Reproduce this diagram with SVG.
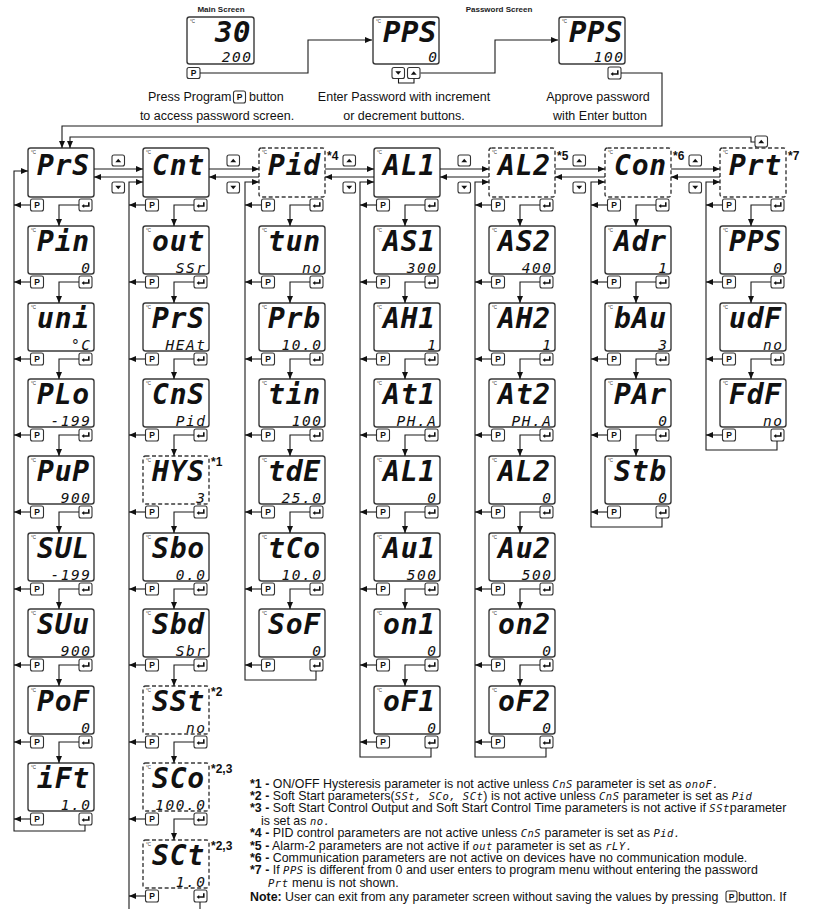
<svg xmlns="http://www.w3.org/2000/svg" width="813" height="909" viewBox="0 0 813 909">
<style>
.box{fill:#fff;stroke:#3a3a3a;stroke-width:1.4}
.dash{stroke-dasharray:4 2.5}
.btn{fill:#fff;stroke:#333;stroke-width:1.1}
.ln{fill:none;stroke:#1a1a1a;stroke-width:1.1}
.arr{marker-end:url(#ah)}
.seg{font-family:"DejaVu Sans Mono",monospace;font-style:italic;font-weight:bold;font-size:28px;letter-spacing:0.8px;fill:#111}
.segt{font-family:"DejaVu Sans Mono",monospace;font-style:italic;font-weight:bold;font-size:29px;letter-spacing:0.5px;fill:#111;text-anchor:end}
.val{font-family:"DejaVu Sans Mono",monospace;font-style:italic;font-size:14.5px;letter-spacing:1.5px;text-anchor:end;fill:#111}
.deg{font-family:"Liberation Sans",Arial,sans-serif;font-size:4.5px;fill:#333}
.bp{font-family:"Liberation Sans",Arial,sans-serif;font-weight:bold;font-size:8.5px;text-anchor:middle;fill:#111}
.cap{font-family:"Liberation Sans",Arial,sans-serif;font-size:12.5px;fill:#111}
.ttl{font-family:"Liberation Sans",Arial,sans-serif;font-weight:bold;font-size:8px;text-anchor:middle;fill:#222}
.star{font-family:"Liberation Sans",Arial,sans-serif;font-weight:bold;font-size:12px;fill:#111}
.fn{font-family:"Liberation Sans",Arial,sans-serif;font-size:12.4px;fill:#111}
.b{font-weight:bold}
.fs{font-family:"DejaVu Sans Mono",monospace;font-style:italic;font-size:10.5px;letter-spacing:0.5px}
</style>
<defs>
<marker id="ah" viewBox="0 0 7 6" refX="7" refY="3" markerWidth="7" markerHeight="6" markerUnits="userSpaceOnUse" orient="auto"><path d="M0,0L7,3L0,6Z" fill="#111"/></marker>
<g id="ent"><rect class="btn" width="13" height="12" rx="2"/><path d="M9.8,3.2V7H4.8" fill="none" stroke="#111" stroke-width="1.6"/><path d="M2.6,7L5.2,4.9V9.1Z" fill="#111"/></g>
<g id="up"><rect class="btn" width="12.5" height="11" rx="2"/><path d="M3.3,7.3L6.25,3.7L9.2,7.3Z" fill="#111"/></g>
<g id="dn"><rect class="btn" width="12.5" height="11" rx="2"/><path d="M3.3,3.7L6.25,7.3L9.2,3.7Z" fill="#111"/></g>
</defs>
<rect width="813" height="909" fill="#fff"/>

<g id="main-screen">
<text class="ttl" x="221" y="12">Main Screen</text>
<rect class="box" x="187" y="17" width="67" height="47" rx="2.5"/>
<text class="deg" x="190" y="23">°C</text>
<text class="segt" x="251" y="42">30</text>
<text class="val" x="252.5" y="62">200</text>
<rect class="btn" x="187" y="67.5" width="13" height="11" rx="2"/><text class="bp" x="193.5" y="76">P</text>
</g>
<g id="pw-enter">
<rect class="box" x="373" y="17" width="66" height="47" rx="2.5"/>
<text class="deg" x="376" y="23">°C</text>
<text class="segt" x="437" y="42">PPS</text>
<text class="val" x="438.5" y="62">0</text>
<use href="#dn" x="392" y="67.5"/><use href="#up" x="407.5" y="67.5"/>
</g>
<g id="pw-approve">
<text class="ttl" x="499" y="12">Password Screen</text>
<rect class="box" x="559" y="17" width="66" height="47" rx="2.5"/>
<text class="deg" x="562" y="23">°C</text>
<text class="segt" x="623" y="42">PPS</text>
<text class="val" x="624.5" y="62">100</text>
<use href="#ent" x="608" y="67"/>
</g>
<g id="captions">
<text class="cap" x="148" y="101">Press Program</text>
<rect class="btn" x="233.5" y="91" width="12" height="12" rx="2"/><text class="bp" x="239.5" y="100">P</text>
<text class="cap" x="249" y="101">button</text>
<text class="cap" x="217" y="119.5" text-anchor="middle">to access password screen.</text>
<text class="cap" x="404" y="101" text-anchor="middle">Enter Password with increment</text>
<text class="cap" x="404" y="119.5" text-anchor="middle">or decrement buttons.</text>
<text class="cap" x="598" y="101" text-anchor="middle">Approve password</text>
<text class="cap" x="600" y="119.5" text-anchor="middle">with Enter button</text>
</g>

<g id="n-prs"><rect class="box" x="28" y="148" width="66" height="49" rx="2.5"/><text class="deg" x="31" y="154">°C</text><text class="seg" x="37" y="175">PrS</text><rect class="btn" x="30.5" y="199" width="13" height="12" rx="2"/><text class="bp" x="37" y="208">P</text><use href="#ent" x="79" y="199"/></g>
<g id="n-pin"><rect class="box" x="28" y="226" width="66" height="48" rx="2.5"/><text class="deg" x="31" y="232">°C</text><text class="seg" x="37" y="251">Pin</text><text class="val" x="91.5" y="272.5">0</text><rect class="btn" x="30.5" y="276" width="13" height="12" rx="2"/><text class="bp" x="37" y="285">P</text><use href="#ent" x="79" y="276"/></g>
<g id="n-uni"><rect class="box" x="28" y="303" width="66" height="48" rx="2.5"/><text class="deg" x="31" y="309">°C</text><text class="seg" x="37" y="328">uni</text><text class="val" x="91.5" y="349.5">°C</text><rect class="btn" x="30.5" y="353" width="13" height="12" rx="2"/><text class="bp" x="37" y="362">P</text><use href="#ent" x="79" y="353"/></g>
<g id="n-plo"><rect class="box" x="28" y="379" width="66" height="48" rx="2.5"/><text class="deg" x="31" y="385">°C</text><text class="seg" x="37" y="404">PLo</text><text class="val" x="91.5" y="425.5">-199</text><rect class="btn" x="30.5" y="429" width="13" height="12" rx="2"/><text class="bp" x="37" y="438">P</text><use href="#ent" x="79" y="429"/></g>
<g id="n-pup"><rect class="box" x="28" y="456" width="66" height="48" rx="2.5"/><text class="deg" x="31" y="462">°C</text><text class="seg" x="37" y="481">PuP</text><text class="val" x="91.5" y="502.5">900</text><rect class="btn" x="30.5" y="506" width="13" height="12" rx="2"/><text class="bp" x="37" y="515">P</text><use href="#ent" x="79" y="506"/></g>
<g id="n-sul"><rect class="box" x="28" y="533" width="66" height="48" rx="2.5"/><text class="deg" x="31" y="539">°C</text><text class="seg" x="37" y="558">SUL</text><text class="val" x="91.5" y="579.5">-199</text><rect class="btn" x="30.5" y="583" width="13" height="12" rx="2"/><text class="bp" x="37" y="592">P</text><use href="#ent" x="79" y="583"/></g>
<g id="n-suu"><rect class="box" x="28" y="609" width="66" height="48" rx="2.5"/><text class="deg" x="31" y="615">°C</text><text class="seg" x="37" y="634">SUu</text><text class="val" x="91.5" y="655.5">900</text><rect class="btn" x="30.5" y="659" width="13" height="12" rx="2"/><text class="bp" x="37" y="668">P</text><use href="#ent" x="79" y="659"/></g>
<g id="n-pof"><rect class="box" x="28" y="686" width="66" height="48" rx="2.5"/><text class="deg" x="31" y="692">°C</text><text class="seg" x="37" y="711">PoF</text><text class="val" x="91.5" y="732.5">0</text><rect class="btn" x="30.5" y="736" width="13" height="12" rx="2"/><text class="bp" x="37" y="745">P</text><use href="#ent" x="79" y="736"/></g>
<g id="n-ift"><rect class="box" x="28" y="763" width="66" height="48" rx="2.5"/><text class="deg" x="31" y="769">°C</text><text class="seg" x="37" y="788">iFt</text><text class="val" x="91.5" y="809.5">1.0</text><rect class="btn" x="30.5" y="813" width="13" height="12" rx="2"/><text class="bp" x="37" y="822">P</text><use href="#ent" x="79" y="813"/></g>

<g id="n-cnt"><rect class="box" x="143" y="148" width="66" height="49" rx="2.5"/><text class="deg" x="146" y="154">°C</text><text class="seg" x="152" y="175">Cnt</text><rect class="btn" x="145.5" y="199" width="13" height="12" rx="2"/><text class="bp" x="152" y="208">P</text><use href="#ent" x="194" y="199"/></g>
<g id="n-out"><rect class="box" x="143" y="226" width="66" height="48" rx="2.5"/><text class="deg" x="146" y="232">°C</text><text class="seg" x="152" y="251">out</text><text class="val" x="206.5" y="272.5">SSr</text><rect class="btn" x="145.5" y="276" width="13" height="12" rx="2"/><text class="bp" x="152" y="285">P</text><use href="#ent" x="194" y="276"/></g>
<g id="n-prs2"><rect class="box" x="143" y="303" width="66" height="48" rx="2.5"/><text class="deg" x="146" y="309">°C</text><text class="seg" x="152" y="328">PrS</text><text class="val" x="206.5" y="349.5">HEAt</text><rect class="btn" x="145.5" y="353" width="13" height="12" rx="2"/><text class="bp" x="152" y="362">P</text><use href="#ent" x="194" y="353"/></g>
<g id="n-cns"><rect class="box" x="143" y="379" width="66" height="48" rx="2.5"/><text class="deg" x="146" y="385">°C</text><text class="seg" x="152" y="404">CnS</text><text class="val" x="206.5" y="425.5">Pid</text><rect class="btn" x="145.5" y="429" width="13" height="12" rx="2"/><text class="bp" x="152" y="438">P</text><use href="#ent" x="194" y="429"/></g>
<g id="n-hys"><rect class="box dash" x="143" y="456" width="66" height="48" rx="2.5"/><text class="deg" x="146" y="462">°C</text><text class="seg" x="152" y="481">HYS</text><text class="val" x="206.5" y="502.5">3</text><text class="star" x="211" y="466">*1</text><rect class="btn" x="145.5" y="506" width="13" height="12" rx="2"/><text class="bp" x="152" y="515">P</text><use href="#ent" x="194" y="506"/></g>
<g id="n-sbo"><rect class="box" x="143" y="533" width="66" height="48" rx="2.5"/><text class="deg" x="146" y="539">°C</text><text class="seg" x="152" y="558">Sbo</text><text class="val" x="206.5" y="579.5">0.0</text><rect class="btn" x="145.5" y="583" width="13" height="12" rx="2"/><text class="bp" x="152" y="592">P</text><use href="#ent" x="194" y="583"/></g>
<g id="n-sbd"><rect class="box" x="143" y="609" width="66" height="48" rx="2.5"/><text class="deg" x="146" y="615">°C</text><text class="seg" x="152" y="634">Sbd</text><text class="val" x="206.5" y="655.5">Sbr</text><rect class="btn" x="145.5" y="659" width="13" height="12" rx="2"/><text class="bp" x="152" y="668">P</text><use href="#ent" x="194" y="659"/></g>
<g id="n-sst"><rect class="box dash" x="143" y="686" width="66" height="48" rx="2.5"/><text class="deg" x="146" y="692">°C</text><text class="seg" x="152" y="711">SSt</text><text class="val" x="206.5" y="732.5">no</text><text class="star" x="211" y="696">*2</text><rect class="btn" x="145.5" y="736" width="13" height="12" rx="2"/><text class="bp" x="152" y="745">P</text><use href="#ent" x="194" y="736"/></g>
<g id="n-sco"><rect class="box dash" x="143" y="763" width="66" height="48" rx="2.5"/><text class="deg" x="146" y="769">°C</text><text class="seg" x="152" y="788">SCo</text><text class="val" x="206.5" y="809.5">100.0</text><text class="star" x="211" y="773">*2,3</text><rect class="btn" x="145.5" y="813" width="13" height="12" rx="2"/><text class="bp" x="152" y="822">P</text><use href="#ent" x="194" y="813"/></g>
<g id="n-sct"><rect class="box dash" x="143" y="840" width="66" height="48" rx="2.5"/><text class="deg" x="146" y="846">°C</text><text class="seg" x="152" y="865">SCt</text><text class="val" x="206.5" y="886.5">1.0</text><text class="star" x="211" y="850">*2,3</text><rect class="btn" x="145.5" y="890" width="13" height="12" rx="2"/><text class="bp" x="152" y="899">P</text><use href="#ent" x="194" y="890"/></g>

<g id="n-pid"><rect class="box dash" x="259" y="148" width="66" height="49" rx="2.5"/><text class="deg" x="262" y="154">°C</text><text class="seg" x="268" y="175">Pid</text><text class="star" x="327" y="160">*4</text><rect class="btn" x="261.5" y="199" width="13" height="12" rx="2"/><text class="bp" x="268" y="208">P</text><use href="#ent" x="310" y="199"/></g>
<g id="n-tun"><rect class="box" x="259" y="226" width="66" height="48" rx="2.5"/><text class="deg" x="262" y="232">°C</text><text class="seg" x="268" y="251">tun</text><text class="val" x="322.5" y="272.5">no</text><rect class="btn" x="261.5" y="276" width="13" height="12" rx="2"/><text class="bp" x="268" y="285">P</text><use href="#ent" x="310" y="276"/></g>
<g id="n-prb"><rect class="box" x="259" y="303" width="66" height="48" rx="2.5"/><text class="deg" x="262" y="309">°C</text><text class="seg" x="268" y="328">Prb</text><text class="val" x="322.5" y="349.5">10.0</text><rect class="btn" x="261.5" y="353" width="13" height="12" rx="2"/><text class="bp" x="268" y="362">P</text><use href="#ent" x="310" y="353"/></g>
<g id="n-tin"><rect class="box" x="259" y="379" width="66" height="48" rx="2.5"/><text class="deg" x="262" y="385">°C</text><text class="seg" x="268" y="404">tin</text><text class="val" x="322.5" y="425.5">100</text><rect class="btn" x="261.5" y="429" width="13" height="12" rx="2"/><text class="bp" x="268" y="438">P</text><use href="#ent" x="310" y="429"/></g>
<g id="n-tde"><rect class="box" x="259" y="456" width="66" height="48" rx="2.5"/><text class="deg" x="262" y="462">°C</text><text class="seg" x="268" y="481">tdE</text><text class="val" x="322.5" y="502.5">25.0</text><rect class="btn" x="261.5" y="506" width="13" height="12" rx="2"/><text class="bp" x="268" y="515">P</text><use href="#ent" x="310" y="506"/></g>
<g id="n-tco"><rect class="box" x="259" y="533" width="66" height="48" rx="2.5"/><text class="deg" x="262" y="539">°C</text><text class="seg" x="268" y="558">tCo</text><text class="val" x="322.5" y="579.5">10.0</text><rect class="btn" x="261.5" y="583" width="13" height="12" rx="2"/><text class="bp" x="268" y="592">P</text><use href="#ent" x="310" y="583"/></g>
<g id="n-sof"><rect class="box" x="259" y="609" width="66" height="48" rx="2.5"/><text class="deg" x="262" y="615">°C</text><text class="seg" x="268" y="634">SoF</text><text class="val" x="322.5" y="655.5">0</text><rect class="btn" x="261.5" y="659" width="13" height="12" rx="2"/><text class="bp" x="268" y="668">P</text><use href="#ent" x="310" y="659"/></g>

<g id="n-al1"><rect class="box" x="374" y="148" width="66" height="49" rx="2.5"/><text class="deg" x="377" y="154">°C</text><text class="seg" x="383" y="175">AL1</text><rect class="btn" x="376.5" y="199" width="13" height="12" rx="2"/><text class="bp" x="383" y="208">P</text><use href="#ent" x="425" y="199"/></g>
<g id="n-as1"><rect class="box" x="374" y="226" width="66" height="48" rx="2.5"/><text class="deg" x="377" y="232">°C</text><text class="seg" x="383" y="251">AS1</text><text class="val" x="437.5" y="272.5">300</text><rect class="btn" x="376.5" y="276" width="13" height="12" rx="2"/><text class="bp" x="383" y="285">P</text><use href="#ent" x="425" y="276"/></g>
<g id="n-ah1"><rect class="box" x="374" y="303" width="66" height="48" rx="2.5"/><text class="deg" x="377" y="309">°C</text><text class="seg" x="383" y="328">AH1</text><text class="val" x="437.5" y="349.5">1</text><rect class="btn" x="376.5" y="353" width="13" height="12" rx="2"/><text class="bp" x="383" y="362">P</text><use href="#ent" x="425" y="353"/></g>
<g id="n-at1"><rect class="box" x="374" y="379" width="66" height="48" rx="2.5"/><text class="deg" x="377" y="385">°C</text><text class="seg" x="383" y="404">At1</text><text class="val" x="437.5" y="425.5">PH.A</text><rect class="btn" x="376.5" y="429" width="13" height="12" rx="2"/><text class="bp" x="383" y="438">P</text><use href="#ent" x="425" y="429"/></g>
<g id="n-al1b"><rect class="box" x="374" y="456" width="66" height="48" rx="2.5"/><text class="deg" x="377" y="462">°C</text><text class="seg" x="383" y="481">AL1</text><text class="val" x="437.5" y="502.5">0</text><rect class="btn" x="376.5" y="506" width="13" height="12" rx="2"/><text class="bp" x="383" y="515">P</text><use href="#ent" x="425" y="506"/></g>
<g id="n-au1"><rect class="box" x="374" y="533" width="66" height="48" rx="2.5"/><text class="deg" x="377" y="539">°C</text><text class="seg" x="383" y="558">Au1</text><text class="val" x="437.5" y="579.5">500</text><rect class="btn" x="376.5" y="583" width="13" height="12" rx="2"/><text class="bp" x="383" y="592">P</text><use href="#ent" x="425" y="583"/></g>
<g id="n-on1"><rect class="box" x="374" y="609" width="66" height="48" rx="2.5"/><text class="deg" x="377" y="615">°C</text><text class="seg" x="383" y="634">on1</text><text class="val" x="437.5" y="655.5">0</text><rect class="btn" x="376.5" y="659" width="13" height="12" rx="2"/><text class="bp" x="383" y="668">P</text><use href="#ent" x="425" y="659"/></g>
<g id="n-of1"><rect class="box" x="374" y="686" width="66" height="48" rx="2.5"/><text class="deg" x="377" y="692">°C</text><text class="seg" x="383" y="711">oF1</text><text class="val" x="437.5" y="732.5">0</text><rect class="btn" x="376.5" y="736" width="13" height="12" rx="2"/><text class="bp" x="383" y="745">P</text><use href="#ent" x="425" y="736"/></g>

<g id="n-al2"><rect class="box dash" x="489" y="148" width="66" height="49" rx="2.5"/><text class="deg" x="492" y="154">°C</text><text class="seg" x="498" y="175">AL2</text><text class="star" x="557" y="160">*5</text><rect class="btn" x="491.5" y="199" width="13" height="12" rx="2"/><text class="bp" x="498" y="208">P</text><use href="#ent" x="540" y="199"/></g>
<g id="n-as2"><rect class="box" x="489" y="226" width="66" height="48" rx="2.5"/><text class="deg" x="492" y="232">°C</text><text class="seg" x="498" y="251">AS2</text><text class="val" x="552.5" y="272.5">400</text><rect class="btn" x="491.5" y="276" width="13" height="12" rx="2"/><text class="bp" x="498" y="285">P</text><use href="#ent" x="540" y="276"/></g>
<g id="n-ah2"><rect class="box" x="489" y="303" width="66" height="48" rx="2.5"/><text class="deg" x="492" y="309">°C</text><text class="seg" x="498" y="328">AH2</text><text class="val" x="552.5" y="349.5">1</text><rect class="btn" x="491.5" y="353" width="13" height="12" rx="2"/><text class="bp" x="498" y="362">P</text><use href="#ent" x="540" y="353"/></g>
<g id="n-at2"><rect class="box" x="489" y="379" width="66" height="48" rx="2.5"/><text class="deg" x="492" y="385">°C</text><text class="seg" x="498" y="404">At2</text><text class="val" x="552.5" y="425.5">PH.A</text><rect class="btn" x="491.5" y="429" width="13" height="12" rx="2"/><text class="bp" x="498" y="438">P</text><use href="#ent" x="540" y="429"/></g>
<g id="n-al2b"><rect class="box" x="489" y="456" width="66" height="48" rx="2.5"/><text class="deg" x="492" y="462">°C</text><text class="seg" x="498" y="481">AL2</text><text class="val" x="552.5" y="502.5">0</text><rect class="btn" x="491.5" y="506" width="13" height="12" rx="2"/><text class="bp" x="498" y="515">P</text><use href="#ent" x="540" y="506"/></g>
<g id="n-au2"><rect class="box" x="489" y="533" width="66" height="48" rx="2.5"/><text class="deg" x="492" y="539">°C</text><text class="seg" x="498" y="558">Au2</text><text class="val" x="552.5" y="579.5">500</text><rect class="btn" x="491.5" y="583" width="13" height="12" rx="2"/><text class="bp" x="498" y="592">P</text><use href="#ent" x="540" y="583"/></g>
<g id="n-on2"><rect class="box" x="489" y="609" width="66" height="48" rx="2.5"/><text class="deg" x="492" y="615">°C</text><text class="seg" x="498" y="634">on2</text><text class="val" x="552.5" y="655.5">0</text><rect class="btn" x="491.5" y="659" width="13" height="12" rx="2"/><text class="bp" x="498" y="668">P</text><use href="#ent" x="540" y="659"/></g>
<g id="n-of2"><rect class="box" x="489" y="686" width="66" height="48" rx="2.5"/><text class="deg" x="492" y="692">°C</text><text class="seg" x="498" y="711">oF2</text><text class="val" x="552.5" y="732.5">0</text><rect class="btn" x="491.5" y="736" width="13" height="12" rx="2"/><text class="bp" x="498" y="745">P</text><use href="#ent" x="540" y="736"/></g>

<g id="n-con"><rect class="box dash" x="605" y="148" width="66" height="49" rx="2.5"/><text class="deg" x="608" y="154">°C</text><text class="seg" x="614" y="175">Con</text><text class="star" x="673" y="160">*6</text><rect class="btn" x="607.5" y="199" width="13" height="12" rx="2"/><text class="bp" x="614" y="208">P</text><use href="#ent" x="656" y="199"/></g>
<g id="n-adr"><rect class="box" x="605" y="226" width="66" height="48" rx="2.5"/><text class="deg" x="608" y="232">°C</text><text class="seg" x="614" y="251">Adr</text><text class="val" x="668.5" y="272.5">1</text><rect class="btn" x="607.5" y="276" width="13" height="12" rx="2"/><text class="bp" x="614" y="285">P</text><use href="#ent" x="656" y="276"/></g>
<g id="n-bau"><rect class="box" x="605" y="303" width="66" height="48" rx="2.5"/><text class="deg" x="608" y="309">°C</text><text class="seg" x="614" y="328">bAu</text><text class="val" x="668.5" y="349.5">3</text><rect class="btn" x="607.5" y="353" width="13" height="12" rx="2"/><text class="bp" x="614" y="362">P</text><use href="#ent" x="656" y="353"/></g>
<g id="n-par"><rect class="box" x="605" y="379" width="66" height="48" rx="2.5"/><text class="deg" x="608" y="385">°C</text><text class="seg" x="614" y="404">PAr</text><text class="val" x="668.5" y="425.5">0</text><rect class="btn" x="607.5" y="429" width="13" height="12" rx="2"/><text class="bp" x="614" y="438">P</text><use href="#ent" x="656" y="429"/></g>
<g id="n-stb"><rect class="box" x="605" y="456" width="66" height="48" rx="2.5"/><text class="deg" x="608" y="462">°C</text><text class="seg" x="614" y="481">Stb</text><text class="val" x="668.5" y="502.5">0</text><rect class="btn" x="607.5" y="506" width="13" height="12" rx="2"/><text class="bp" x="614" y="515">P</text><use href="#ent" x="656" y="506"/></g>

<g id="n-prt"><rect class="box dash" x="720" y="148" width="66" height="49" rx="2.5"/><text class="deg" x="723" y="154">°C</text><text class="seg" x="729" y="175">Prt</text><text class="star" x="788" y="160">*7</text><rect class="btn" x="722.5" y="199" width="13" height="12" rx="2"/><text class="bp" x="729" y="208">P</text><use href="#ent" x="771" y="199"/></g>
<g id="n-pps"><rect class="box" x="720" y="226" width="66" height="48" rx="2.5"/><text class="deg" x="723" y="232">°C</text><text class="seg" x="729" y="251">PPS</text><text class="val" x="783.5" y="272.5">0</text><rect class="btn" x="722.5" y="276" width="13" height="12" rx="2"/><text class="bp" x="729" y="285">P</text><use href="#ent" x="771" y="276"/></g>
<g id="n-udf"><rect class="box" x="720" y="303" width="66" height="48" rx="2.5"/><text class="deg" x="723" y="309">°C</text><text class="seg" x="729" y="328">udF</text><text class="val" x="783.5" y="349.5">no</text><rect class="btn" x="722.5" y="353" width="13" height="12" rx="2"/><text class="bp" x="729" y="362">P</text><use href="#ent" x="771" y="353"/></g>
<g id="n-fdf"><rect class="box" x="720" y="379" width="66" height="48" rx="2.5"/><text class="deg" x="723" y="385">°C</text><text class="seg" x="729" y="404">FdF</text><text class="val" x="783.5" y="425.5">no</text><rect class="btn" x="722.5" y="429" width="13" height="12" rx="2"/><text class="bp" x="729" y="438">P</text><use href="#ent" x="771" y="429"/></g>

<g id="connectors">
<path class="ln" d="M398.5,78.5V83H414V78.5"/>
<path class="ln arr" d="M200,73H308V40H372"/>
<path class="ln arr" d="M420.5,73H495V40H558"/>
<path class="ln arr" d="M621,73H662V126H62V148"/>
<path class="ln arr" d="M755,142H751V137H70V148"/>
<use href="#up" x="755" y="136"/>
<path class="ln arr" d="M94,169H143"/><path class="ln arr" d="M143,177H94"/>
<path class="ln arr" d="M209,169H259"/><path class="ln arr" d="M259,177H209"/>
<path class="ln arr" d="M325,169H374"/><path class="ln arr" d="M374,177H325"/>
<path class="ln arr" d="M440,169H489"/><path class="ln arr" d="M489,177H440"/>
<path class="ln arr" d="M555,169H605"/><path class="ln arr" d="M605,177H555"/>
<path class="ln arr" d="M671,169H720"/><path class="ln arr" d="M720,177H671"/>
<use href="#up" x="112" y="155"/><use href="#dn" x="112" y="182"/>
<use href="#up" x="227" y="155"/><use href="#dn" x="227" y="182"/>
<use href="#up" x="343" y="155"/><use href="#dn" x="343" y="182"/>
<use href="#up" x="458" y="155"/><use href="#dn" x="458" y="182"/>
<use href="#up" x="573" y="155"/><use href="#dn" x="573" y="182"/>
<use href="#up" x="689" y="155"/><use href="#dn" x="689" y="182"/>
<path class="ln arr" d="M85,825V831H14V171H28"/>
<path class="ln arr" d="M30.5,205H14"/><path class="ln arr" d="M30.5,282H14"/><path class="ln arr" d="M30.5,359H14"/><path class="ln arr" d="M30.5,435H14"/><path class="ln arr" d="M30.5,512H14"/><path class="ln arr" d="M30.5,589H14"/><path class="ln arr" d="M30.5,665H14"/><path class="ln arr" d="M30.5,742H14"/><path class="ln arr" d="M30.5,819H14"/>
<path class="ln arr" d="M79,205H59V226"/><path class="ln arr" d="M79,282H59V303"/><path class="ln arr" d="M79,359H59V379"/><path class="ln arr" d="M79,435H59V456"/><path class="ln arr" d="M79,512H59V533"/><path class="ln arr" d="M79,589H59V609"/><path class="ln arr" d="M79,665H59V686"/><path class="ln arr" d="M79,742H59V763"/>
<path class="ln arr" d="M129,915V182H143"/>
<path class="ln" d="M200,902V915"/>
<path class="ln arr" d="M145.5,205H129"/><path class="ln arr" d="M145.5,282H129"/><path class="ln arr" d="M145.5,359H129"/><path class="ln arr" d="M145.5,435H129"/><path class="ln arr" d="M145.5,512H129"/><path class="ln arr" d="M145.5,589H129"/><path class="ln arr" d="M145.5,665H129"/><path class="ln arr" d="M145.5,742H129"/><path class="ln arr" d="M145.5,819H129"/><path class="ln arr" d="M145.5,896H129"/>
<path class="ln arr" d="M194,205H174V226"/><path class="ln arr" d="M194,282H174V303"/><path class="ln arr" d="M194,359H174V379"/><path class="ln arr" d="M194,435H174V456"/><path class="ln arr" d="M194,512H174V533"/><path class="ln arr" d="M194,589H174V609"/><path class="ln arr" d="M194,665H174V686"/><path class="ln arr" d="M194,742H174V763"/><path class="ln arr" d="M194,819H174V840"/>
<path class="ln arr" d="M316,671V680H245V182H259"/>
<path class="ln arr" d="M261.5,205H245"/><path class="ln arr" d="M261.5,282H245"/><path class="ln arr" d="M261.5,359H245"/><path class="ln arr" d="M261.5,435H245"/><path class="ln arr" d="M261.5,512H245"/><path class="ln arr" d="M261.5,589H245"/><path class="ln arr" d="M261.5,665H245"/>
<path class="ln arr" d="M310,205H290V226"/><path class="ln arr" d="M310,282H290V303"/><path class="ln arr" d="M310,359H290V379"/><path class="ln arr" d="M310,435H290V456"/><path class="ln arr" d="M310,512H290V533"/><path class="ln arr" d="M310,589H290V609"/>
<path class="ln arr" d="M431,748V757H360V182H374"/>
<path class="ln arr" d="M376.5,205H360"/><path class="ln arr" d="M376.5,282H360"/><path class="ln arr" d="M376.5,359H360"/><path class="ln arr" d="M376.5,435H360"/><path class="ln arr" d="M376.5,512H360"/><path class="ln arr" d="M376.5,589H360"/><path class="ln arr" d="M376.5,665H360"/><path class="ln arr" d="M376.5,742H360"/>
<path class="ln arr" d="M425,205H405V226"/><path class="ln arr" d="M425,282H405V303"/><path class="ln arr" d="M425,359H405V379"/><path class="ln arr" d="M425,435H405V456"/><path class="ln arr" d="M425,512H405V533"/><path class="ln arr" d="M425,589H405V609"/><path class="ln arr" d="M425,665H405V686"/>
<path class="ln arr" d="M546,748V757H475V182H489"/>
<path class="ln arr" d="M491.5,205H475"/><path class="ln arr" d="M491.5,282H475"/><path class="ln arr" d="M491.5,359H475"/><path class="ln arr" d="M491.5,435H475"/><path class="ln arr" d="M491.5,512H475"/><path class="ln arr" d="M491.5,589H475"/><path class="ln arr" d="M491.5,665H475"/><path class="ln arr" d="M491.5,742H475"/>
<path class="ln arr" d="M540,205H520V226"/><path class="ln arr" d="M540,282H520V303"/><path class="ln arr" d="M540,359H520V379"/><path class="ln arr" d="M540,435H520V456"/><path class="ln arr" d="M540,512H520V533"/><path class="ln arr" d="M540,589H520V609"/><path class="ln arr" d="M540,665H520V686"/>
<path class="ln arr" d="M662,518V527H591V182H605"/>
<path class="ln arr" d="M607.5,205H591"/><path class="ln arr" d="M607.5,282H591"/><path class="ln arr" d="M607.5,359H591"/><path class="ln arr" d="M607.5,435H591"/><path class="ln arr" d="M607.5,512H591"/>
<path class="ln arr" d="M656,205H636V226"/><path class="ln arr" d="M656,282H636V303"/><path class="ln arr" d="M656,359H636V379"/><path class="ln arr" d="M656,435H636V456"/>
<path class="ln arr" d="M777,441V450H706V182H720"/>
<path class="ln arr" d="M722.5,205H706"/><path class="ln arr" d="M722.5,282H706"/><path class="ln arr" d="M722.5,359H706"/><path class="ln arr" d="M722.5,435H706"/>
<path class="ln arr" d="M771,205H751V226"/><path class="ln arr" d="M771,282H751V303"/><path class="ln arr" d="M771,359H751V379"/>
</g>

<g id="footnotes">
<text class="fn" x="250" y="787.5"><tspan class="b">*1 -</tspan> ON/OFF Hysteresis parameter is not active unless <tspan class="fs">CnS</tspan> parameter is set as <tspan class="fs">onoF.</tspan></text>
<text class="fn" x="250" y="799.9"><tspan class="b">*2 -</tspan> Soft Start parameters(<tspan class="fs">SSt, SCo, SCt</tspan>) is not active unless <tspan class="fs">CnS</tspan> parameter is set as <tspan class="fs">Pid</tspan></text>
<text class="fn" x="250" y="812.3"><tspan class="b">*3 -</tspan> Soft Start Control Output and Soft Start Control Time parameters is not active if <tspan class="fs">SSt</tspan>parameter</text>
<text class="fn" x="261" y="824.7">is set as <tspan class="fs">no.</tspan></text>
<text class="fn" x="250" y="837.1"><tspan class="b">*4 -</tspan> PID control parameters are not active unless <tspan class="fs">CnS</tspan> parameter is set as <tspan class="fs">Pid.</tspan></text>
<text class="fn" x="250" y="849.5"><tspan class="b">*5 -</tspan> Alarm-2 parameters are not active if <tspan class="fs">out</tspan> parameter is set as <tspan class="fs">rLY.</tspan></text>
<text class="fn" x="250" y="861.9"><tspan class="b">*6 -</tspan> Communication parameters are not active on devices have no communication module.</text>
<text class="fn" x="250" y="874.3"><tspan class="b">*7 -</tspan> If <tspan class="fs">PPS</tspan> is different from 0 and user enters to program menu without entering the password</text>
<text class="fn" x="268" y="886.7"><tspan class="fs">Prt</tspan> menu is not shown.</text>
<text class="fn" x="250" y="901"><tspan class="b">Note:</tspan> User can exit from any parameter screen without saving the values by pressing</text>
<rect class="btn" x="726" y="891" width="11" height="11" rx="2"/><text class="bp" x="731.5" y="899.5">P</text>
<text class="fn" x="738" y="901">button. If</text>
</g>
</svg>
